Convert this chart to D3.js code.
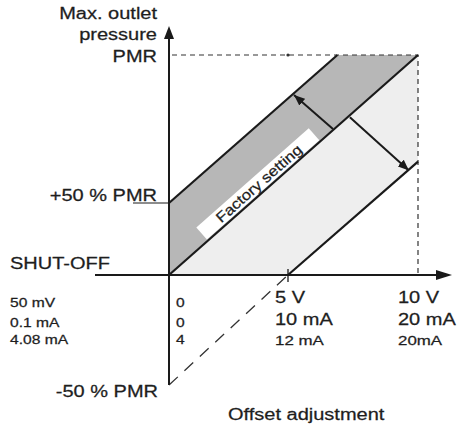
<!DOCTYPE html>
<html>
<head>
<meta charset="utf-8">
<script src="https://cdn.jsdelivr.net/npm/d3@7"></script>
<style>
body { margin: 0; background: #fff; }
text { font-family: "Liberation Sans", Arial, sans-serif; fill: #1e1e1e; stroke: #1e1e1e; stroke-width: 0.25px; }
</style>
</head>
<body>
<script>
var width = 457, height = 426;

// schematic: x = control signal (V), y = outlet pressure (% PMR)
var xTicks = [0, 5, 10];
var yTicks = [-50, 0, 50, 100];
var yLabels = ["-50 % PMR", "SHUT-OFF", "+50 % PMR", "PMR"];
var signalRows = ["50 mV", "0.1 mA", "4.08 mA"];
var zeroRow = ["0", "0", "4"];
var fiveRow = ["5 V", "10 mA", "12 mA"];
var tenRow = ["10 V", "20 mA", "20mA"];

var upperLine = [[0, 50], [6.9, 100]];
var factoryLine = [[0, 0], [10, 100]];
var lowerLine = [[5, 0], [10, 64]];
var offsetLine = [[0, -50], [5, 0]];
var arrowUp = [[6.73, 75], [5.23, 86.5]];
var arrowDown = [[7.38, 79], [9.65, 61]];

var x = d3.scaleLinear().domain(xTicks).range([169, 288, 418]);
var y = d3.scaleLinear().domain(yTicks).range([385, 275, 203, 55]);

var svg = d3.select("body").append("svg")
    .attr("width", width)
    .attr("height", height);

var defs = svg.append("defs");
defs.append("marker")
    .attr("id", "head")
    .attr("viewBox", "0 0 11 9")
    .attr("refX", 11).attr("refY", 4.5)
    .attr("markerWidth", 11).attr("markerHeight", 9)
    .attr("markerUnits", "userSpaceOnUse")
    .attr("orient", "auto")
  .append("path")
    .attr("d", "M0,0L11,4.5L0,9z")
    .style("fill", "#1a1a1a");

var line = d3.line()
    .x(function(d) { return x(d[0]); })
    .y(function(d) { return y(d[1]); });

// bands
svg.append("path")
    .attr("d", line([upperLine[0], upperLine[1], factoryLine[1], factoryLine[0]]) + "Z")
    .style("fill", "#b7b7b7");
svg.append("path")
    .attr("d", line([factoryLine[0], factoryLine[1], lowerLine[1], lowerLine[0]]) + "Z")
    .style("fill", "#eeeeee");

// dashed guides
svg.append("path")
    .attr("d", line([[0, 100], [10, 100], [10, 0]]).replace(/^M[^L]*/, "M" + (x(0) + 3) + "," + y(100)))
    .style("fill", "none")
    .style("stroke", "#333")
    .style("stroke-width", 1.2)
    .style("stroke-dasharray", "5,4");
svg.append("circle")
    .attr("cx", x(5)).attr("cy", y(100)).attr("r", 1.6)
    .style("fill", "#333");

svg.append("path")
    .attr("d", line(offsetLine))
    .style("fill", "none")
    .style("stroke", "#333")
    .style("stroke-width", 1.3)
    .style("stroke-dasharray", "12,9");

// factory setting label box
var p0 = [x(factoryLine[0][0]), y(factoryLine[0][1])],
    p1 = [x(factoryLine[1][0]), y(factoryLine[1][1])],
    ang = Math.atan2(p1[1] - p0[1], p1[0] - p0[0]),
    mid = d3.interpolate(p0, p1)(0.385),
    nx = Math.sin(ang), ny = -Math.cos(ang),
    cx = mid[0] + nx * 9.5, cy = mid[1] + ny * 9.5;

var box = svg.append("g")
    .attr("transform", "translate(" + cx + "," + cy + ") rotate(" + (ang * 180 / Math.PI) + ")");
box.append("rect")
    .attr("x", -76).attr("y", -8)
    .attr("width", 150).attr("height", 16)
    .style("fill", "#fff")
    .style("stroke", "none");
box.append("text")
    .attr("transform", "translate(0,5.5) scale(1.15,1)")
    .attr("text-anchor", "middle")
    .style("font-size", "14.5px")
    .text("Factory setting");

// characteristic lines
[upperLine, factoryLine, lowerLine].forEach(function(l) {
    svg.append("path")
        .attr("d", line(l))
        .style("fill", "none")
        .style("stroke", "#1a1a1a")
        .style("stroke-width", 2.2);
});

// adjustment arrows
[arrowUp, arrowDown].forEach(function(a) {
    svg.append("path")
        .attr("d", line(a))
        .style("fill", "none")
        .style("stroke", "#1a1a1a")
        .style("stroke-width", 2)
        .attr("marker-end", "url(#head)");
});

// axes
svg.append("line")
    .attr("x1", x(0)).attr("x2", x(0))
    .attr("y1", y(-50)).attr("y2", 34)
    .style("stroke", "#1a1a1a").style("stroke-width", 2);
svg.append("path")
    .attr("d", "M" + x(0) + ",26L" + (x(0) + 5) + ",39L" + (x(0) - 5) + ",39Z")
    .style("fill", "#1a1a1a");

svg.append("line")
    .attr("x1", 95).attr("x2", 442)
    .attr("y1", y(0)).attr("y2", y(0))
    .style("stroke", "#1a1a1a").style("stroke-width", 2);
svg.append("path")
    .attr("d", "M452," + y(0) + "L436," + (y(0) - 5) + "L436," + (y(0) + 5) + "Z")
    .style("fill", "#1a1a1a");

svg.append("line")
    .attr("x1", x(5)).attr("x2", x(5))
    .attr("y1", y(0) - 6).attr("y2", y(0) + 7)
    .style("stroke", "#1a1a1a").style("stroke-width", 1.3);
svg.append("line")
    .attr("x1", x(0) - 36).attr("x2", x(0))
    .attr("y1", y(50)).attr("y2", y(50))
    .style("stroke", "#1a1a1a").style("stroke-width", 1.1);

// labels
function label(px, py, str, size, anchor) {
    svg.append("text")
        .attr("transform", "translate(" + px + "," + py + ") scale(1.25,1)")
        .attr("text-anchor", anchor)
        .style("font-size", size + "px")
        .text(str);
}

label(157, 19, "Max. outlet", 16, "end");
label(157, 40, "pressure", 16, "end");
label(157, y(100) + 7, yLabels[3], 16, "end");
label(157, y(50) - 2, yLabels[2], 16, "end");
label(10, y(0) - 6, yLabels[1], 16, "start");
label(158, y(-50) + 12, yLabels[0], 16, "end");

var rowY = [307, 327, 344];
signalRows.forEach(function(s, i) { label(10, rowY[i], s, 12.5, "start"); });
zeroRow.forEach(function(s, i) { label(x(0) + 7, rowY[i], s, 12.5, "start"); });

var colY = [303, 325, 345], colSize = [16, 16, 13.5];
fiveRow.forEach(function(s, i) { label(x(5) - 13, colY[i], s, colSize[i], "start"); });
tenRow.forEach(function(s, i) { label(x(10) - 20, colY[i], s, colSize[i], "start"); });

label(228, 420, "Offset adjustment", 16, "start");
</script>
</body>
</html>
